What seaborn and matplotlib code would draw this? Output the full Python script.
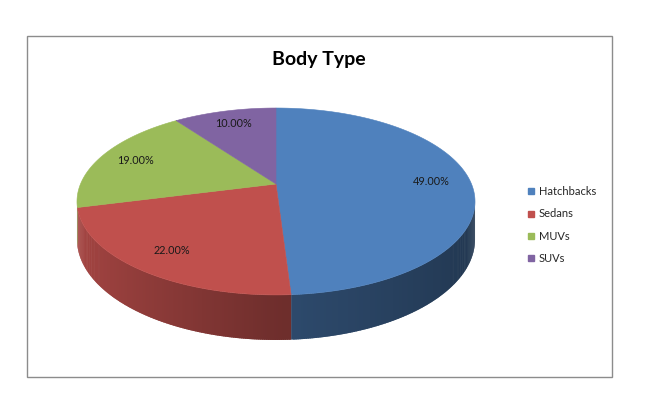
import numpy as np
import matplotlib
matplotlib.use("Agg")
import matplotlib.pyplot as plt
from matplotlib.patches import Rectangle
from matplotlib.lines import Line2D
from matplotlib.collections import PolyCollection
import seaborn as sns

# ---- data ----
categories = ["Hatchbacks", "Sedans", "MUVs", "SUVs"]
shares = [49.0, 22.0, 19.0, 10.0]
title = "Body Type"

sns.set_theme(style="white")
plt.rcParams["font.family"] = ["Lato", "DejaVu Sans"]
colors = sns.color_palette(["#4F81BD", "#C0504D", "#9BBB59", "#8064A2"])

fig = plt.figure(figsize=(6.5, 4.2), dpi=100)
fig.patch.set_facecolor("white")
ax = fig.add_axes([0, 0, 1, 1])
ax.set_xlim(0, 650)
ax.set_ylim(420, 0)
ax.axis("off")

# ---- layout of the pseudo-3D pie ----
CX, CY = 276.0, 184.0   # apex of the top face
R = 195.5               # horizontal radius
A = 90.2                # vertical radius factor
C = 0.187               # perspective
D = 36.6                # depth

def proj(t_deg, r=1.0, z=0.0):
    t = np.radians(t_deg)
    u = r * np.cos(t)
    v = r * np.sin(t)
    s = 1.0 / (1.0 + C * v)
    return CX + R * u * s, CY - A * v * s + z * D * s

def shade(t_deg):
    c = np.cos(np.radians(t_deg))
    return np.where(c < 0, 0.58 - 0.29 * c, 0.58 - 0.16 * c)

vals = np.array(shares, dtype=float)
fr = vals / vals.sum()
cum = np.concatenate([[0], np.cumsum(fr)])
th0 = 90 - 360 * cum[:-1]
th1 = 90 - 360 * cum[1:]

asc = np.degrees(np.arcsin(C))
vis_lo, vis_hi = -180 + asc, -asc

# sides (drawn as thin overlapping strips to fake Excel's gradient)
for i in range(len(vals)):
    lo, hi = max(th1[i], vis_lo), min(th0[i], vis_hi)
    if hi <= lo:
        continue
    n = max(2, int((hi - lo) / 0.5))
    ts = np.linspace(lo, hi, n + 1)
    base = np.array(colors[i])
    polys, fcols = [], []
    for k, (a, b) in enumerate(zip(ts[:-1], ts[1:])):
        b2 = min(b + 0.4, hi)
        seg = np.linspace(a, b2, 3)
        xt, yt = proj(seg)
        xb, yb = proj(seg[::-1], z=1)
        polys.append(list(zip(np.r_[xt, xb], np.r_[yt, yb])))
        f = float(shade((a + b) / 2))
        fcols.append(tuple(np.clip(base * f, 0, 1)))
    # draw from right to left so overlaps go one way consistently
    pc = PolyCollection(polys, facecolors=fcols, edgecolors="none",
                        linewidths=0, antialiased=True)
    ax.add_collection(pc)

# top faces
for i in range(len(vals)):
    ts = np.linspace(th0[i], th1[i], 200)
    xs, ys = proj(ts)
    xs = np.concatenate([[CX], xs]); ys = np.concatenate([[CY], ys])
    ax.fill(xs, ys, facecolor=colors[i], edgecolor=colors[i], lw=0.4)

# labels
for i in range(len(vals)):
    mid = (th0[i] + th1[i]) / 2
    x, y = proj(mid, r=0.8)
    ax.text(x, y, f"{vals[i]:.2f}%", ha="center", va="center",
            fontsize=7.8, color="#1a1a1a")

# title
ax.text(319, 60, title, ha="center", va="center", fontsize=14,
        fontweight="bold", color="black")

# frame
ax.add_patch(Rectangle((27, 36), 585, 341, fill=False, ec="#8c8c8c", lw=1.0))

# legend
handles = [Line2D([], [], marker="s", ls="", markersize=4.5, color=colors[i])
           for i in range(len(categories))]
ax.legend(handles, categories, loc="center left", bbox_to_anchor=(527, 225),
          bbox_transform=ax.transData, frameon=False, fontsize=8,
          handlelength=0.7, handletextpad=0.35, labelspacing=1.0,
          borderpad=0, borderaxespad=0)

fig.savefig("out.png", dpi=100, facecolor="white")
